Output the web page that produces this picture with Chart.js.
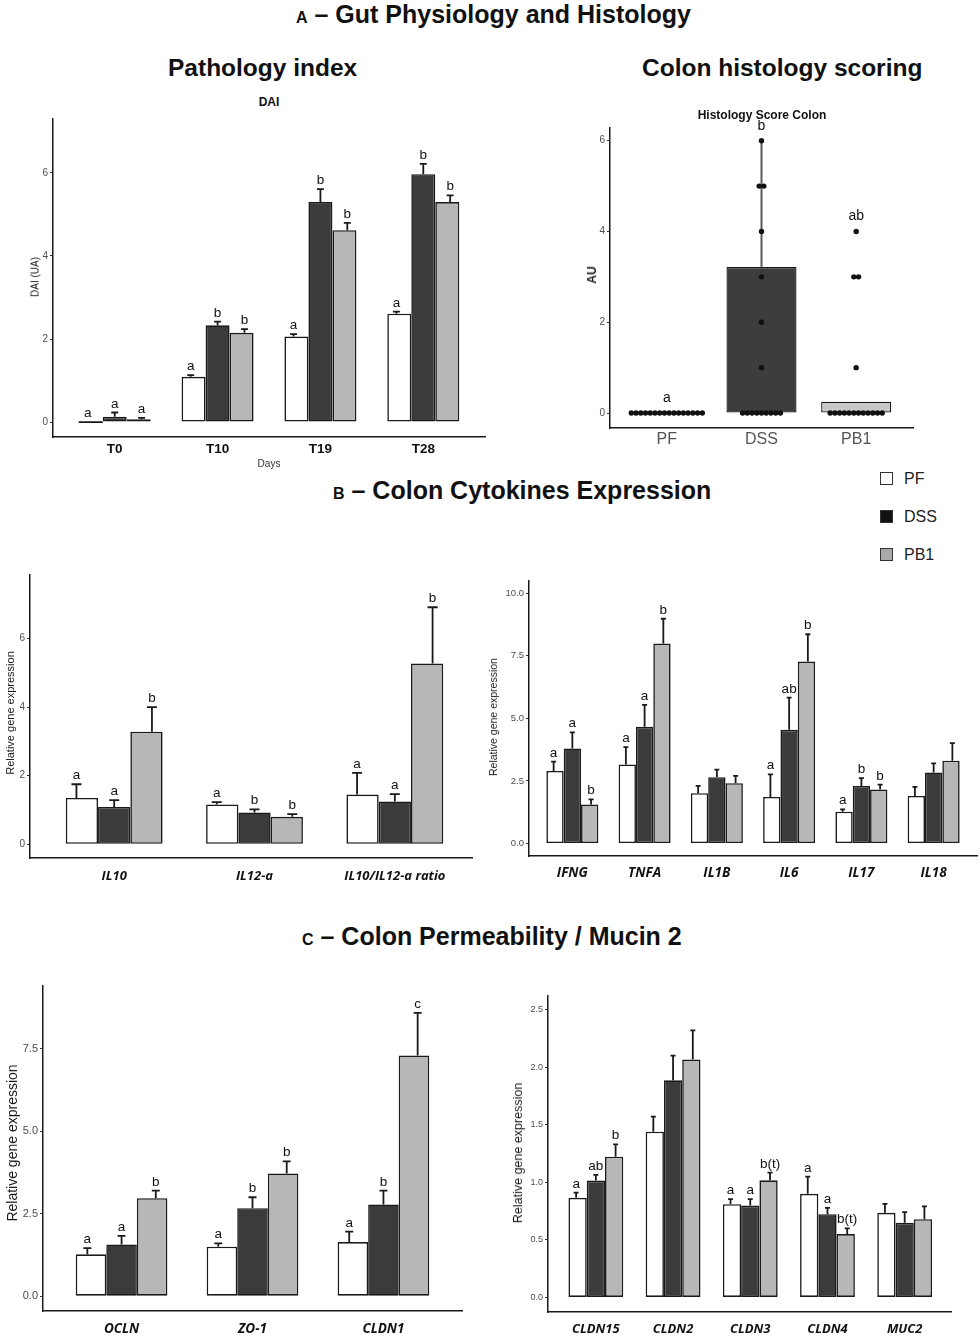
<!DOCTYPE html>
<html>
<head>
<meta charset="utf-8">
<script src="https://cdn.jsdelivr.net/npm/chart.js@4.4.1/dist/chart.umd.min.js"></script>
<style>
  body { margin: 0; background: #fff; font-family: "Liberation Sans", Arial, sans-serif; }
  #page { position: relative; width: 980px; height: 1339px; overflow: hidden; background: #fff; }
  canvas { position: absolute; }
  .t { position: absolute; white-space: nowrap; transform: translateY(-50%); color: #111; font-weight: bold; }
  .c { position: absolute; white-space: nowrap; transform: translate(-50%, -50%); color: #111; }
  .yt { position: absolute; white-space: nowrap; transform: translate(-50%, -50%) rotate(-90deg); color: #1a1a1a; }
  .sw { position: absolute; width: 11px; height: 11px; border: 1.5px solid #333; }
  .lg { position: absolute; font-size: 16px; color: #222; transform: translateY(-50%); }
</style>
</head>
<body>
<div id="page"></div>
<script>
// ---- data ----
const groups = ['PF', 'DSS', 'PB1'];

// DAI (pathology index)
const daiDays = ['T0', 'T10', 'T19', 'T28'];
const daiPF = [0, 1.09, 2.06, 2.61];
const daiPFse = [0, 0.04, 0.06, 0.05];
const daiPFlet = ['a', 'a', 'a', 'a'];
const daiDSS = [0.13, 2.33, 5.30, 5.97];
const daiDSSse = [0.10, 0.09, 0.31, 0.25];
const daiDSSlet = ['a', 'b', 'b', 'b'];
const daiPB1 = [0.07, 2.15, 4.62, 5.30];
const daiPB1se = [0.03, 0.09, 0.18, 0.16];
const daiPB1let = ['a', 'b', 'b', 'b'];
const daiTicks = [0, 2, 4, 6];

// histology score colon
const histCats = ['PF', 'DSS', 'PB1'];
const histMeans = [0, 3.22, 0.25];
const histWhisker = [null, 6, null];
const histLetters = ['a', 'b', 'ab'];
const histScoresPF = [0, 0, 0, 0, 0, 0, 0, 0, 0, 0, 0, 0, 0, 0, 0, 0];
const histScoresDSS = [0, 0, 0, 0, 0, 0, 0, 0, 0, 1, 2, 3, 4, 5, 5, 6];
const histScoresPB1 = [0, 0, 0, 0, 0, 0, 0, 0, 0, 0, 0, 0, 1, 3, 3, 4];
const histTicks = [0, 2, 4, 6];

// IL10 / IL12-a
const ilCats = ['IL10', 'IL12-a', 'IL10/IL12-a ratio'];
const ilPF = [1.35, 1.16, 1.45];
const ilPFse = [0.40, 0.07, 0.63];
const ilPFlet = ['a', 'a', 'a'];
const ilDSS = [1.09, 0.93, 1.25];
const ilDSSse = [0.20, 0.09, 0.21];
const ilDSSlet = ['a', 'b', 'a'];
const ilPB1 = [3.28, 0.80, 5.27];
const ilPB1se = [0.72, 0.08, 1.64];
const ilPB1let = ['b', 'b', 'b'];
const ilTicks = [0, 2, 4, 6];

// cytokines
const cytCats = ['IFNG', 'TNFA', 'IL1B', 'IL6', 'IL17', 'IL18'];
const cytPF = [2.90, 3.16, 2.01, 1.86, 1.27, 1.90];
const cytPFse = [0.37, 0.69, 0.29, 0.90, 0.09, 0.36];
const cytPFlet = ['a', 'a', '', 'a', 'a', ''];
const cytDSS = [3.80, 4.66, 2.65, 4.54, 2.30, 2.84];
const cytDSSse = [0.64, 0.88, 0.30, 1.29, 0.31, 0.36];
const cytDSSlet = ['a', 'a', '', 'ab', 'b', ''];
const cytPB1 = [1.56, 7.99, 2.41, 7.27, 2.16, 3.31];
const cytPB1se = [0.20, 0.99, 0.29, 1.09, 0.19, 0.70];
const cytPB1let = ['b', 'b', '', 'b', 'b', ''];
const cytTicks = [0, 2.5, 5, 7.5, 10];

// permeability
const permCats = ['OCLN', 'ZO-1', 'CLDN1'];
const permPF = [1.27, 1.50, 1.64];
const permPFse = [0.19, 0.10, 0.32];
const permPFlet = ['a', 'a', 'a'];
const permDSS = [1.57, 2.67, 2.78];
const permDSSse = [0.26, 0.33, 0.42];
const permDSSlet = ['a', 'b', 'b'];
const permPB1 = [2.97, 3.72, 7.30];
const permPB1se = [0.23, 0.37, 1.29];
const permPB1let = ['b', 'b', 'c'];
const permTicks = [0, 2.5, 5, 7.5];

// claudins / mucin
const cldCats = ['CLDN15', 'CLDN2', 'CLDN3', 'CLDN4', 'MUC2'];
const cldPF = [0.865, 1.44, 0.81, 0.90, 0.735];
const cldPFse = [0.045, 0.13, 0.043, 0.15, 0.078];
const cldPFlet = ['a', '', 'a', 'a', ''];
const cldDSS = [1.015, 1.886, 0.798, 0.723, 0.649];
const cldDSSse = [0.049, 0.214, 0.055, 0.055, 0.091];
const cldDSSlet = ['ab', '', 'a', 'a', ''];
const cldPB1 = [1.222, 2.067, 1.017, 0.55, 0.68];
const cldPB1se = [0.108, 0.253, 0.067, 0.05, 0.11];
const cldPB1let = ['b', '', 'b(t)', 'b(t)', ''];
const cldTicks = [0, 0.5, 1, 1.5, 2, 2.5];

const fills = { PF: '#ffffff', DSS: '#3b3b3b', PB1: '#b7b7b7' };
const page = document.getElementById('page');

function addCanvas(box) {
  const c = document.createElement('canvas');
  const left = box.left - box.yw, top = box.top - 6;
  c.width = box.right - left + 2;
  c.height = box.bottom - top + box.xh;
  c.style.left = left + 'px';
  c.style.top = top + 'px';
  c.style.width = c.width + 'px';
  c.style.height = c.height + 'px';
  page.appendChild(c);
  return c;
}

// error bars + significance letters on top of grouped bars
const errorBars = {
  id: 'errbars',
  afterDatasetsDraw(chart, args, o) {
    if (!o || !o.on) return;
    const ctx = chart.ctx, xs = chart.scales.x, ys = chart.scales.y;
    chart.data.datasets.forEach((ds, i) => {
      if (!ds.errors) return;
      chart.getDatasetMeta(i).data.forEach((bar, j) => {
        const top = ys.getPixelForValue(ds.data[j].y + ds.errors[j]);
        const cx = xs.getPixelForValue(j);
        const x = cx + (bar.x - cx) * o.spread;
        ctx.save();
        ctx.strokeStyle = '#1a1a1a';
        ctx.lineWidth = o.lw;
        ctx.beginPath();
        // zero-height bars still show as a flat line in the original
        if (ds.data[j].y === 0) {
          ctx.moveTo(bar.x - bar.width / 2, bar.y);
          ctx.lineTo(bar.x + bar.width / 2, bar.y);
        }
        ctx.moveTo(x, bar.y);
        ctx.lineTo(x, top);
        ctx.moveTo(x - o.cap, top);
        ctx.lineTo(x + o.cap, top);
        ctx.stroke();
        const lab = ds.letters[j];
        if (lab) {
          ctx.fillStyle = '#111';
          ctx.font = o.font;
          ctx.textAlign = 'center';
          ctx.textBaseline = 'alphabetic';
          ctx.fillText(lab, x, top - o.gap);
        }
        ctx.restore();
      });
    });
  }
};

function axes(s) {
  return {
    x: {
      type: 'linear', min: s.xmin, max: s.xmax, offset: false,
      afterFit: sc => { sc.height = s.xh; },
      afterBuildTicks: sc => { sc.ticks = s.cats.map((_, i) => ({ value: i })); },
      grid: { display: false, drawTicks: false, offset: false },
      border: { display: true, color: '#1a1a1a', width: 1.5 },
      ticks: { autoSkip: false, maxRotation: 0, padding: s.xpad, color: s.xcolor || '#111',
               font: s.xfont, callback: v => s.cats[v] }
    },
    y: {
      min: s.ymin, max: s.ymax,
      afterFit: sc => { sc.width = s.yw; },
      afterBuildTicks: sc => { sc.ticks = s.yticks.map(v => ({ value: v })); },
      grid: { drawOnChartArea: false, drawTicks: true, tickLength: 3, color: '#333' },
      border: { display: true, color: '#1a1a1a', width: 1.5 },
      ticks: { padding: 2, color: '#4d4d4d', font: { family: 'Liberation Sans', size: s.ysize },
               callback: v => v.toFixed(s.ydig) }
    }
  };
}

function groupedPanel(s) {
  const canvas = addCanvas(s);
  const sets = [
    ['PF', s.pf, s.pfse, s.pflet],
    ['DSS', s.dss, s.dssse, s.dsslet],
    ['PB1', s.pb1, s.pb1se, s.pb1let]
  ].map(([name, vals, se, let_]) => ({
    label: name,
    data: vals.map((v, i) => ({ x: i, y: v })),
    errors: se,
    letters: let_,
    backgroundColor: fills[name],
    borderColor: '#1a1a1a',
    borderWidth: 1.6,
    borderSkipped: false,
    categoryPercentage: s.cat,
    barPercentage: 1
  }));
  return new Chart(canvas, {
    type: 'bar',
    data: { datasets: sets },
    options: {
      responsive: false, animation: false,
      layout: { padding: { top: 6, right: 2, left: 0, bottom: 0 } },
      plugins: {
        legend: { display: false }, tooltip: { enabled: false },
        errbars: { on: true, spread: s.spread, cap: s.capw, lw: 1.8, gap: 5,
                   font: '13.5px "Liberation Sans", Arial, sans-serif' }
      },
      scales: axes(s)
    },
    plugins: [errorBars]
  });
}

const geneFont = size => ({ family: 'Open Sans', size: size, weight: 'bold', style: 'italic' });

groupedPanel({
  left: 53, top: 117, right: 485, bottom: 437, yw: 40, xh: 25,
  cats: daiDays, xmin: -0.6, xmax: 3.6, ymin: -0.36, ymax: 7.3, yticks: daiTicks, ydig: 0, ysize: 10,
  xpad: 4, xfont: { family: 'Liberation Sans', size: 13.5, weight: 'bold' },
  pf: daiPF, pfse: daiPFse, pflet: daiPFlet, dss: daiDSS, dssse: daiDSSse, dsslet: daiDSSlet,
  pb1: daiPB1, pb1se: daiPB1se, pb1let: daiPB1let, cat: 0.70, spread: 1.12, capw: 3.5
});

groupedPanel({
  left: 30, top: 573, right: 472, bottom: 858, yw: 30, xh: 28,
  cats: ilCats, xmin: -0.6, xmax: 2.55, ymin: -0.4, ymax: 7.85, yticks: ilTicks, ydig: 0, ysize: 10,
  xpad: 10, xfont: geneFont(13),
  pf: ilPF, pfse: ilPFse, pflet: ilPFlet, dss: ilDSS, dssse: ilDSSse, dsslet: ilDSSlet,
  pb1: ilPB1, pb1se: ilPB1se, pb1let: ilPB1let, cat: 0.69, spread: 1.17, capw: 5
});

groupedPanel({
  left: 529, top: 579, right: 977, bottom: 856, yw: 32, xh: 28,
  cats: cytCats, xmin: -0.6, xmax: 5.6, ymin: -0.5, ymax: 10.5, yticks: cytTicks, ydig: 1, ysize: 9.5,
  xpad: 9, xfont: geneFont(13.5),
  pf: cytPF, pfse: cytPFse, pflet: cytPFlet, dss: cytDSS, dssse: cytDSSse, dsslet: cytDSSlet,
  pb1: cytPB1, pb1se: cytPB1se, pb1let: cytPB1let, cat: 0.72, spread: 1.08, capw: 2.5
});

groupedPanel({
  left: 43, top: 983, right: 462, bottom: 1311, yw: 34, xh: 27,
  cats: permCats, xmin: -0.6, xmax: 2.6, ymin: -0.45, ymax: 9.42, yticks: permTicks, ydig: 1, ysize: 11,
  xpad: 10, xfont: geneFont(13.5),
  pf: permPF, pfse: permPFse, pflet: permPFlet, dss: permDSS, dssse: permDSSse, dsslet: permDSSlet,
  pb1: permPB1, pb1se: permPB1se, pb1let: permPB1let, cat: 0.70, spread: 1.12, capw: 4
});

groupedPanel({
  left: 548, top: 994, right: 951, bottom: 1312, yw: 30, xh: 26,
  cats: cldCats, xmin: -0.62, xmax: 4.6, ymin: -0.127, ymax: 2.624, yticks: cldTicks, ydig: 1, ysize: 9,
  xpad: 9, xfont: geneFont(13),
  pf: cldPF, pfse: cldPFse, pflet: cldPFlet, dss: cldDSS, dssse: cldDSSse, dsslet: cldDSSlet,
  pb1: cldPB1, pb1se: cldPB1se, pb1let: cldPB1let, cat: 0.71, spread: 1.08, capw: 2.5
});

// ---- histology dot + bar panel ----
const dotStep = 0.05;
function dotPoints(scores, catIndex) {
  const counts = {}, seen = {};
  scores.forEach(v => { counts[v] = (counts[v] || 0) + 1; });
  return scores.map(v => {
    const k = seen[v] = (seen[v] || 0) + 1;
    return { x: catIndex + (k - 1 - (counts[v] - 1) / 2) * dotStep, y: v };
  });
}

const histAnno = {
  id: 'histanno',
  beforeDatasetsDraw(chart) {
    const ctx = chart.ctx, xs = chart.scales.x, ys = chart.scales.y;
    ctx.save();
    ctx.strokeStyle = '#5a5a5a';
    ctx.lineWidth = 2;
    histWhisker.forEach((w, i) => {
      if (w === null) return;
      const x = xs.getPixelForValue(i);
      ctx.beginPath();
      ctx.moveTo(x, ys.getPixelForValue(histMeans[i]));
      ctx.lineTo(x, ys.getPixelForValue(w));
      ctx.stroke();
    });
    ctx.restore();
  },
  afterDatasetsDraw(chart) {
    const ctx = chart.ctx, xs = chart.scales.x, ys = chart.scales.y;
    const all = [histScoresPF, histScoresDSS, histScoresPB1];
    ctx.save();
    ctx.fillStyle = '#111';
    ctx.font = '14px "Liberation Sans", Arial, sans-serif';
    ctx.textAlign = 'center';
    histLetters.forEach((l, i) => {
      const top = Math.max(...all[i], histWhisker[i] || 0);
      ctx.fillText(l, xs.getPixelForValue(i), ys.getPixelForValue(top) - 11);
    });
    ctx.restore();
  }
};

(function () {
  const s = {
    left: 610, top: 126, right: 915, bottom: 428, yw: 30, xh: 24,
    cats: histCats, xmin: -0.6, xmax: 2.6, ymin: -0.33, ymax: 6.28, yticks: histTicks, ydig: 0, ysize: 10,
    xpad: 2, xcolor: '#555', xfont: { family: 'Liberation Sans', size: 16 }
  };
  const canvas = addCanvas(s);
  const dotStyle = { type: 'scatter', pointRadius: 2.7, pointBackgroundColor: '#111', pointBorderWidth: 0, order: 1 };
  new Chart(canvas, {
    type: 'bar',
    data: {
      datasets: [
        Object.assign({ data: dotPoints(histScoresPF, 0) }, dotStyle),
        Object.assign({ data: dotPoints(histScoresDSS, 1) }, dotStyle),
        Object.assign({ data: dotPoints(histScoresPB1, 2) }, dotStyle),
        {
          type: 'bar', order: 2,
          data: histMeans.map((v, i) => ({ x: i, y: v })),
          backgroundColor: ['#ffffff', '#3d3d3d', '#c9c9c9'],
          borderColor: '#1a1a1a', borderWidth: 1.3, borderSkipped: false,
          categoryPercentage: 0.74, barPercentage: 1
        }
      ]
    },
    options: {
      responsive: false, animation: false,
      layout: { padding: { top: 6, right: 2, left: 0, bottom: 0 } },
      plugins: { legend: { display: false }, tooltip: { enabled: false } },
      scales: axes(s)
    },
    plugins: [histAnno]
  });
})();

// ---- text ----
function txt(cls, x, y, html, style) {
  const d = document.createElement('div');
  d.className = cls;
  d.style.left = x + 'px';
  d.style.top = y + 'px';
  d.style.cssText += style || '';
  d.innerHTML = html;
  page.appendChild(d);
}
const small = '<span style="font-size:16px">';
txt('t', 296, 14, small + 'A</span> – Gut Physiology and Histology', 'font-size:25px');
txt('t', 333, 490, small + 'B</span> – Colon Cytokines Expression', 'font-size:25px');
txt('t', 302, 936, small + 'C</span> – Colon Permeability / Mucin 2', 'font-size:25px');
txt('t', 168, 68, 'Pathology index', 'font-size:24.5px');
txt('t', 642, 68, 'Colon histology scoring', 'font-size:24.5px');
txt('c', 269, 102, 'DAI', 'font-size:12px;font-weight:bold');
txt('c', 762, 115, 'Histology Score Colon', 'font-size:12px;font-weight:bold');
txt('c', 269, 463, 'Days', 'font-size:10px;color:#333');
txt('yt', 35, 277, 'DAI (UA)', 'font-size:10px');
txt('yt', 592, 275, 'AU', 'font-size:12px;font-weight:bold');
txt('yt', 10, 713, 'Relative gene expression', 'font-size:11px');
txt('yt', 493, 717, 'Relative gene expression', 'font-size:10.5px');
txt('yt', 12, 1143, 'Relative gene expression', 'font-size:14px');
txt('yt', 518, 1153, 'Relative gene expression', 'font-size:12.5px');

// legend
groups.forEach((g, i) => {
  const y = [479, 517, 555][i];
  const sw = document.createElement('div');
  sw.className = 'sw';
  sw.style.left = '880px';
  sw.style.top = (y - 7) + 'px';
  sw.style.background = { PF: '#fff', DSS: '#111', PB1: '#aaa' }[g];
  page.appendChild(sw);
  txt('lg', 904, y, g, '');
});
</script>
</body>
</html>
